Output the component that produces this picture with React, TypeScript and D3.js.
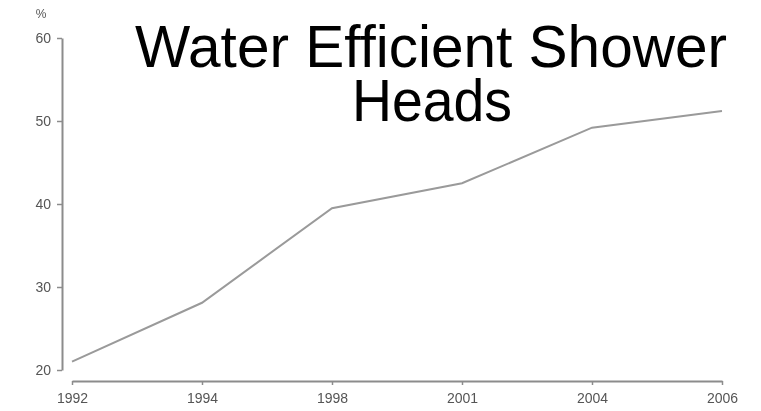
import React, { useEffect, useRef } from "react";
import * as d3 from "d3";

const years = ["1992", "1994", "1998", "2001", "2004", "2006"];
const shareValues = [21, 28.1, 39.5, 42.5, 49.2, 51.2];
const yTicks = [20, 30, 40, 50, 60];
const titleLines = ["Water Efficient Shower", "Heads"];

const App = () => {
  const ref = useRef<SVGSVGElement | null>(null);

  useEffect(() => {
    if (!ref.current) return;
    const svg = d3.select(ref.current);
    svg.selectAll("*").remove();

    const width = 761;
    const height = 411;
    svg.attr("width", width).attr("height", height);

    // soft blur so the small labels look like the scanned original
    svg
      .append("defs")
      .append("filter")
      .attr("id", "soft")
      .append("feGaussianBlur")
      .attr("stdDeviation", 0.5);

    // scales
    const x = d3.scalePoint<string>().domain(years).range([72, 722]);
    const y = d3.scaleLinear().domain([20, 60]).range([370, 38]);

    // y axis
    const yAxis = svg
      .append("g")
      .attr("transform", "translate(62,0)")
      .call(d3.axisLeft(y).tickValues(yTicks).tickSize(5).tickSizeOuter(0).tickPadding(6));
    yAxis.select(".domain").attr("stroke", "#8c8c8c").attr("stroke-width", 2);
    yAxis.selectAll(".tick line").attr("stroke", "#8c8c8c").attr("stroke-width", 1.5);
    yAxis
      .selectAll(".tick text")
      .attr("fill", "#555")
      .attr("filter", "url(#soft)")
      .style("font-family", "Liberation Sans, sans-serif")
      .style("font-size", "14px");

    // x axis
    const xAxis = svg
      .append("g")
      .attr("transform", "translate(0,381)")
      .call(d3.axisBottom(x).tickSize(4).tickSizeOuter(0).tickPadding(8));
    xAxis.select(".domain").attr("stroke", "#8c8c8c").attr("stroke-width", 2);
    xAxis.selectAll(".tick line").attr("stroke", "#8c8c8c").attr("stroke-width", 1.5);
    xAxis
      .selectAll(".tick text")
      .attr("fill", "#555")
      .attr("filter", "url(#soft)")
      .style("font-family", "Liberation Sans, sans-serif")
      .style("font-size", "14px");

    // unit label
    svg
      .append("text")
      .attr("x", 41)
      .attr("y", 18)
      .attr("text-anchor", "middle")
      .attr("fill", "#555")
      .attr("filter", "url(#soft)")
      .style("font-family", "Liberation Sans, sans-serif")
      .style("font-size", "12px")
      .text("%");

    // the line
    const line = d3
      .line<number>()
      .x((d, i) => x(years[i]) as number)
      .y((d) => y(d));
    svg
      .append("path")
      .datum(shareValues)
      .attr("fill", "none")
      .attr("stroke", "#9a9a9a")
      .attr("stroke-width", 2)
      .attr("d", line);

    // title
    svg
      .append("text")
      .attr("x", 135)
      .attr("y", 67)
      .attr("textLength", 592)
      .attr("lengthAdjust", "spacingAndGlyphs")
      .attr("fill", "#000")
      .style("font-family", "Liberation Sans, sans-serif")
      .style("font-size", "60px")
      .text(titleLines[0]);
    svg
      .append("text")
      .attr("x", 352)
      .attr("y", 121)
      .attr("textLength", 160)
      .attr("lengthAdjust", "spacingAndGlyphs")
      .attr("fill", "#000")
      .style("font-family", "Liberation Sans, sans-serif")
      .style("font-size", "60px")
      .text(titleLines[1]);
  }, []);

  return (
    <div style={{ position: "absolute", left: 0, top: 0 }}>
      <svg ref={ref} style={{ display: "block" }} />
    </div>
  );
};

export default App;
